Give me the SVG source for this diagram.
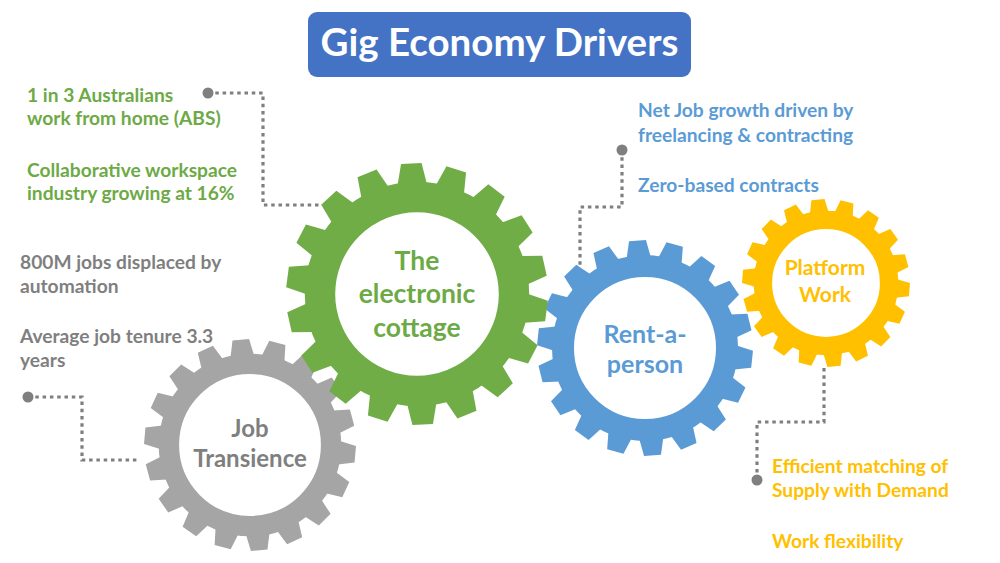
<svg xmlns="http://www.w3.org/2000/svg" xmlns:xlink="http://www.w3.org/1999/xlink" width="1000" height="563" viewBox="0 0 1000 563">
<style>
text{font-family:Lato,"Liberation Sans",sans-serif;font-weight:700}
.body{font-size:19.2px}
.g{fill:#6DAA46}
.gr{fill:#7F7F7F}
.b{fill:#5B9BD5}
.y{fill:#FFC000}
.lbl{text-anchor:middle}
.conn{fill:none;stroke:#7F7F7F;stroke-width:3.2;stroke-dasharray:3.5 3.8}
.dot{fill:#7F7F7F}
.ring{fill:none}
</style>
<defs>
<polygon id="tooth" points="-0.1108,-0.8417 -0.0785,-0.9969 0.0785,-0.9969 0.1108,-0.8417"/>
<g id="teeth">
<use xlink:href="#tooth"/>
<use xlink:href="#tooth" transform="rotate(20)"/>
<use xlink:href="#tooth" transform="rotate(40)"/>
<use xlink:href="#tooth" transform="rotate(60)"/>
<use xlink:href="#tooth" transform="rotate(80)"/>
<use xlink:href="#tooth" transform="rotate(100)"/>
<use xlink:href="#tooth" transform="rotate(120)"/>
<use xlink:href="#tooth" transform="rotate(140)"/>
<use xlink:href="#tooth" transform="rotate(160)"/>
<use xlink:href="#tooth" transform="rotate(180)"/>
<use xlink:href="#tooth" transform="rotate(200)"/>
<use xlink:href="#tooth" transform="rotate(220)"/>
<use xlink:href="#tooth" transform="rotate(240)"/>
<use xlink:href="#tooth" transform="rotate(260)"/>
<use xlink:href="#tooth" transform="rotate(280)"/>
<use xlink:href="#tooth" transform="rotate(300)"/>
<use xlink:href="#tooth" transform="rotate(320)"/>
<use xlink:href="#tooth" transform="rotate(340)"/>
</g>
</defs>
<rect width="1000" height="563" fill="#FFFFFF"/>

<g id="title">
<rect x="308" y="12" width="383" height="65" rx="9" fill="#4472C4"/>
<text x="499.5" y="56" text-anchor="middle" font-size="38.5" fill="#FFFFFF">Gig Economy Drivers</text>
</g>

<g id="gear-job-transience">
<use xlink:href="#teeth" fill="#A5A5A5" transform="translate(250,445) rotate(-5) scale(106)"/>
<circle class="ring" cx="250" cy="445" r="81.1" stroke="#A5A5A5" stroke-width="20.4"/>
<text class="lbl gr" font-size="24" x="250" y="437">Job</text>
<text class="lbl gr" font-size="24" x="250" y="467">Transience</text>
</g>

<g id="gear-rent-a-person">
<use xlink:href="#teeth" fill="#5B9BD5" transform="translate(645,348) rotate(-4) scale(108)"/>
<circle class="ring" cx="645" cy="348" r="82" stroke="#5B9BD5" stroke-width="22"/>
<text class="lbl b" font-size="25" x="645" y="343">Rent-a-</text>
<text class="lbl b" font-size="25" x="645" y="373">person</text>
</g>

<g id="gear-platform-work">
<use xlink:href="#teeth" fill="#FFC000" transform="translate(826,283) rotate(-5.5) scale(84)"/>
<circle class="ring" cx="826" cy="283" r="63.1" stroke="#FFC000" stroke-width="18.4"/>
<text class="lbl y" font-size="21" x="825" y="275">Platform</text>
<text class="lbl y" font-size="21" x="825" y="302">Work</text>
</g>

<g id="gear-electronic-cottage">
<use xlink:href="#teeth" fill="#70AD47" transform="translate(417,294) rotate(-2.5) scale(131)"/>
<circle class="ring" cx="417" cy="294" r="97" stroke="#70AD47" stroke-width="30.4"/>
<text class="lbl g" font-size="26.5" x="417" y="270">The</text>
<text class="lbl g" font-size="26.5" x="417" y="303">electronic</text>
<text class="lbl g" font-size="26.5" x="417" y="337">cottage</text>
</g>

<g id="connectors">
<path class="conn" d="M208,93 H263 V205 H322"/>
<path class="conn" d="M622,150 V207 H580 V266"/>
<path class="conn" d="M28,397 H82 V460 H139"/>
<path class="conn" d="M824,368 V422 H757 V480"/>
<circle class="dot" cx="208" cy="93" r="5.5"/>
<circle class="dot" cx="622" cy="150" r="5.5"/>
<circle class="dot" cx="28" cy="397" r="5.5"/>
<circle class="dot" cx="757" cy="480" r="5.5"/>
</g>

<g id="notes-electronic-cottage">
<text class="body g" x="27" y="102">1 in 3 Australians</text>
<text class="body g" x="27" y="125">work from home (ABS)</text>
<text class="body g" x="27" y="177">Collaborative workspace</text>
<text class="body g" x="27" y="200">industry growing at 16%</text>
</g>

<g id="notes-job-transience">
<text class="body gr" x="20" y="269">800M jobs displaced by</text>
<text class="body gr" x="20" y="293">automation</text>
<text class="body gr" x="20" y="343">Average job tenure 3.3</text>
<text class="body gr" x="20" y="367">years</text>
</g>

<g id="notes-rent-a-person">
<text class="body b" x="638" y="117">Net Job growth driven by</text>
<text class="body b" x="638" y="142">freelancing &amp; contracting</text>
<text class="body b" x="638" y="192">Zero-based contracts</text>
</g>

<g id="notes-platform-work">
<text class="body y" x="772" y="473">Efficient matching of</text>
<text class="body y" x="772" y="497">Supply with Demand</text>
<text class="body y" x="772" y="548">Work flexibility</text>
</g>
</svg>
